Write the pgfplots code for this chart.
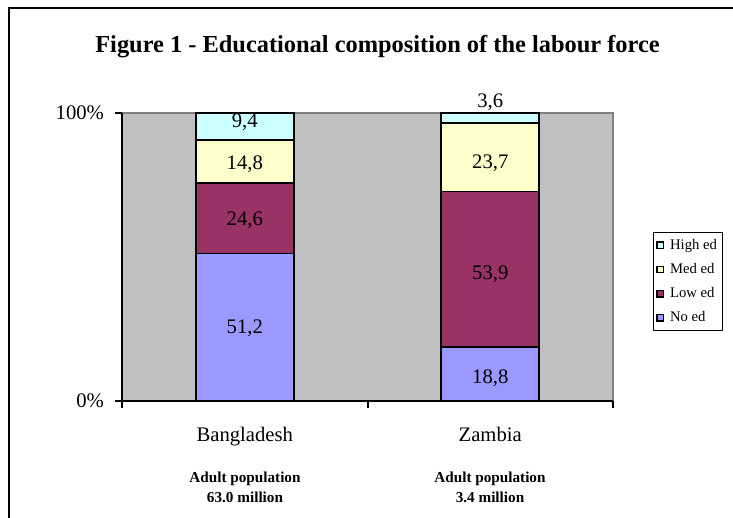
\documentclass[border=0pt]{standalone}
\usepackage{pgfplots}
\pgfplotsset{compat=1.18}
\usepackage{fontspec}
\setmainfont{Liberation Serif}
\definecolor{noed}{HTML}{9999FF}
\definecolor{lowed}{HTML}{993366}
\definecolor{meded}{HTML}{FFFFCC}
\definecolor{highed}{HTML}{CCFFFF}
\definecolor{bggray}{HTML}{C0C0C0}
\definecolor{bordergray}{HTML}{808080}
\pgfplotstableread{
x y lab
0 25.9 51,2
0 63.2 24,6
0 82.6 14,8
0 97.2 9,4
1 8.3 18,8
1 44.4 53,9
1 83.0 23,7
1 104.2 3,6
}\labels
\pgfplotsset{sqleg/.style={legend image code/.code={\draw[##1,draw=black,line width=1pt] (0pt,-2.4pt) rectangle (4.8pt,2.4pt);}}}
\begin{document}
\begin{tikzpicture}[x=0.75pt,y=0.75pt]
\path[use as bounding box] (0,0) rectangle (733,518);
\draw[line width=1.5pt] (9,0) -- (9,510) -- (733,510);
\node[font=\fontsize{18.3}{20}\selectfont\bfseries] at (377.5,471) {Figure 1 - Educational composition of the labour force};
\begin{axis}[
  at={(91.5pt,87.75pt)}, anchor=south west, scale only axis,
  width=368.25pt, height=216pt,
  ybar stacked, bar width=73.5pt,
  xmin=-0.5, xmax=1.5, ymin=0, ymax=100,
  axis background/.style={fill=bggray, draw=bordergray, line width=0.8pt},
  axis x line=bottom, axis y line=left,
  axis line style={line width=1.5pt, -},
  tick align=outside,
  major tick length=5pt,
  tick style={line width=1.5pt, black},
  ytick={0,100}, yticklabels={0\%,100\%},
  xtick={-0.5,0.5,1.5}, xticklabels={},
  extra x ticks={0,1}, extra x tick labels={Bangladesh,Zambia},
  extra x tick style={major tick length=0pt, tick style={draw=none}},
  xticklabel style={yshift=-16pt},
  tick label style={font=\fontsize{15.5}{18}\selectfont},
  yticklabel style={xshift=-5pt},
  legend style={at={(1.0815,0.587)}, anchor=north west, draw=black, line width=1pt,
    font=\fontsize{11}{12}\selectfont, inner xsep=2pt, inner ysep=3pt, row sep=5pt,
    /tikz/every odd column/.append style={column sep=2.5pt}},
  legend cell align=left,
  reverse legend,
]
\addplot[fill=noed, draw=black, line width=1.3pt, sqleg] coordinates {(0,51.2) (1,18.8)};
\addplot[fill=lowed, draw=black, line width=1.3pt, sqleg] coordinates {(0,24.6) (1,53.9)};
\addplot[fill=meded, draw=black, line width=1.3pt, sqleg] coordinates {(0,14.8) (1,23.7)};
\addplot[fill=highed, draw=black, line width=1.3pt, sqleg] coordinates {(0,9.4) (1,3.6)};
\legend{No ed, Low ed, Med ed, High ed}
\end{axis}
\begin{axis}[
  at={(91.5pt,87.75pt)}, anchor=south west, scale only axis,
  width=368.25pt, height=216pt,
  xmin=-0.5, xmax=1.5, ymin=0, ymax=100,
  hide axis, clip=false,
]
\addplot[draw=none, nodes near coords, point meta=explicit symbolic,
  every node near coord/.style={anchor=center, text depth=0pt, inner sep=0pt, font=\fontsize{15.5}{18}\selectfont}]
  table[x=x, y=y, meta=lab] {\labels};
\end{axis}
\node[font=\fontsize{11.4}{15}\selectfont\bfseries, align=center] at (245,31) {Adult population\\63.0 million};
\node[font=\fontsize{11.4}{15}\selectfont\bfseries, align=center] at (490,31) {Adult population\\3.4 million};
\end{tikzpicture}
\end{document}
